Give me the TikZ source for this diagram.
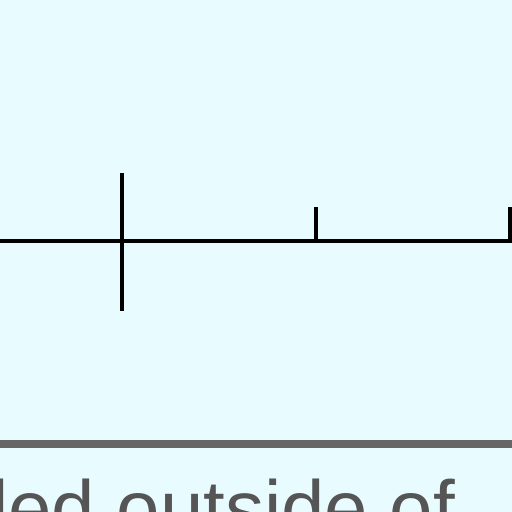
\documentclass[tikz,border=0pt]{standalone}
\usepackage{fontspec}
\setmainfont{Liberation Sans}
\usepackage{xcolor}
\usetikzlibrary{positioning}
\definecolor{panelbg}{HTML}{E8FBFF}
\definecolor{rulegray}{HTML}{666666}
\definecolor{captiongray}{HTML}{555555}
\begin{document}
\begin{tikzpicture}[x=1pt, y=-1pt, every node/.style={inner sep=0pt, outer sep=0pt},
    axisline/.style={line width=4pt, black},
    tickline/.style={line width=4pt, black}]
    % Panel
    \fill[panelbg] (0,0) rectangle (512,512);
    \useasboundingbox (0,0) rectangle (512,512);
    \clip (0,0) rectangle (512,512);

    % Axis with ticks
    \coordinate (axisL) at (-5,241);
    \coordinate (axisR) at (517,241);
    \draw[axisline] (axisL) -- (axisR);
    \coordinate (majorTop) at (122,173);
    \coordinate (majorBot) at (122,311);
    \draw[tickline] (majorTop) -- (majorBot);
    \foreach \x in {316,510} {
        \draw[tickline] (\x,207) -- (\x,241);
    }

    % Separator and caption
    \coordinate (sepL) at (-5,443.5);
    \coordinate (sepR) at (517,443.5);
    \draw[line width=8pt, rulegray] (sepL) -- (sepR);
    \node[anchor=base west, text=captiongray, font=\fontsize{78}{94}\selectfont] (caption) at (-9,535) {led outside of};
\end{tikzpicture}
\end{document}
